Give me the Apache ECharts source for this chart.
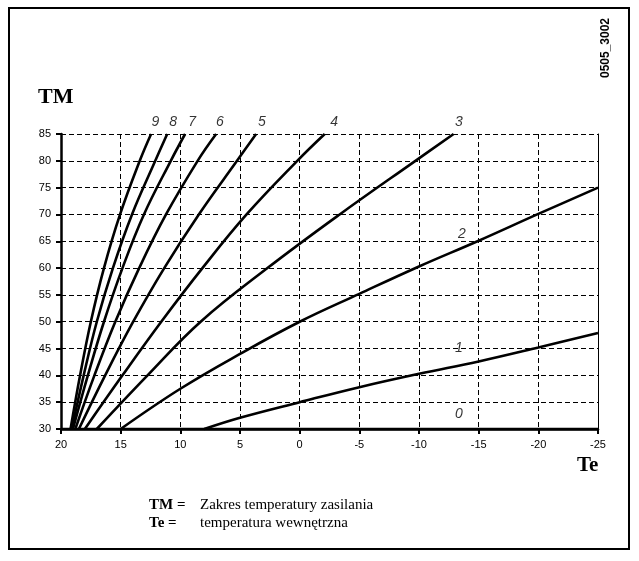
<!DOCTYPE html>
<html><head><meta charset="utf-8">
<script src="https://cdn.jsdelivr.net/npm/echarts@6/dist/echarts.min.js"></script>
<style>html,body{margin:0;padding:0;background:#fff}#c{width:639px;height:561px}</style>
</head><body><div id="c"></div>
<script>
// Te (outdoor temperature) axis and TM (flow temperature) axis
const teMin = -25, teMax = 20, teStep = 5;
const tmMin = 30, tmMax = 85, tmStep = 5;

// Heating curves: [Te, TM] points
const curve0 = [[20,30],[-25,30]];
const curve1 = [[8,30],[5,32.1],[0,35],[-5,37.8],[-10,40.3],[-15,42.6],[-20,45.2],[-25,47.9]];
const curve2 = [[15,30],[10,37.5],[5,44],[0,50],[-5,55.2],[-10,60.3],[-15,65.1],[-20,70.1],[-25,75]];
const curve3 = [[17,30],[12.75,40],[8.3,50],[2.7,60],[-3.35,70],[-9.7,80],[-12.9,85]];
const curve4 = [[18,30],[14.85,40],[11.6,50],[8.15,60],[4.45,70],[0.2,80],[-2.1,85]];
const curve5 = [[18.5,30],[16.3,40],[13.95,50],[11.35,60],[8.45,70],[5.25,80],[3.65,85]];
const curve6 = [[18.8,30],[17.2,40],[15.45,50],[13.45,60],[11.2,70],[8.55,80],[7.0,85]];
const curve7 = [[19.0,30],[17.75,40],[16.4,50],[14.85,60],[13.05,70],[10.8,80],[9.6,85]];
const curve8 = [[19.1,30],[18.1,40],[17.0,50],[15.65,60],[14.05,70],[12.1,80],[11.1,85]];
const curve9 = [[19.2,30],[18.4,40],[17.5,50],[16.4,60],[15.05,70],[13.4,80],[12.45,85]];
const curves = [curve0,curve1,curve2,curve3,curve4,curve5,curve6,curve7,curve8,curve9];
const curveNames = ['0','1','2','3','4','5','6','7','8','9'];

// Curve number labels: [Te, TM, text]
const curveLabels = [
  [-13.35,32.7,'0'],[-13.35,45.0,'1'],[-13.6,66.4,'2'],[-13.35,87.3,'3'],
  [-2.88,87.3,'4'],[3.16,87.3,'5'],[6.68,87.3,'6'],[9.02,87.3,'7'],[10.6,87.3,'8'],[12.1,87.3,'9']
];

const texts = {
  code: '0505_3002',
  yName: 'TM',
  xName: 'Te',
  leg1a: 'TM =', leg1b: 'Zakres temperatury zasilania',
  leg2a: 'Te =', leg2b: 'temperatura wewnętrzna'
};

const chart = echarts.init(document.getElementById('c'), null, {renderer:'canvas'});
const sans = 'Liberation Sans, Arial, sans-serif';
const serif = 'Liberation Serif, Times New Roman, serif';
const dash = {color:'#000', width:1, type:[5,3]};

const series = curves.map((d,i)=>({
  name: curveNames[i], type:'line', data:d, showSymbol:false, smooth:0.4,
  lineStyle:{color:'#000', width:2.6}, z:3, animation:false, clip:false
}));
series.push({
  type:'scatter', data:curveLabels, symbolSize:0, clip:false, z:4, animation:false,
  label:{show:true, position:'inside', formatter:p=>p.value[2], color:'#000',
    fontStyle:'italic', fontSize:14, fontFamily:sans}
});

chart.setOption({
  animation:false,
  backgroundColor:'#fff',
  grid:{left:61, right:41, top:134, bottom:132, containLabel:false},
  xAxis:{type:'value', inverse:true, min:teMin, max:teMax, interval:teStep,
    axisLine:{onZero:false, lineStyle:{color:'#000', width:2.5}},
    axisTick:{show:true, length:5, lineStyle:{color:'#000', width:2}},
    axisLabel:{color:'#000', fontSize:11, fontFamily:sans, margin:10},
    splitLine:{show:true, lineStyle:dash}},
  yAxis:[{type:'value', min:tmMin, max:tmMax, interval:tmStep,
    axisLine:{show:true, onZero:false, lineStyle:{color:'#000', width:2.5}},
    axisTick:{show:true, length:5, lineStyle:{color:'#000', width:2}},
    axisLabel:{color:'#000', fontSize:11, fontFamily:sans, margin:10},
    splitLine:{show:true, lineStyle:dash}},
   {type:'value', position:'right', min:tmMin, max:tmMax, interval:tmStep,
    axisLine:{show:true, onZero:false, lineStyle:{color:'#000', width:1}},
    axisTick:{show:false}, axisLabel:{show:false}, splitLine:{show:false}}],
  series:series,
  graphic:[
    {type:'rect', shape:{x:9, y:8, width:620, height:541}, style:{fill:null, stroke:'#000', lineWidth:2}, silent:true},
    {type:'text', x:606, y:48, rotation:Math.PI/2, style:{text:texts.code, font:'bold 12px '+sans, fill:'#000', align:'center', verticalAlign:'middle'}},
    {type:'text', x:38, y:97, style:{text:texts.yName, font:'bold 22px '+serif, fill:'#000', verticalAlign:'middle'}},
    {type:'text', x:577, y:466, style:{text:texts.xName, font:'bold 21px '+serif, fill:'#000', verticalAlign:'middle'}},
    {type:'text', x:149, y:505, style:{text:texts.leg1a, font:'bold 15px '+serif, fill:'#000', verticalAlign:'middle'}},
    {type:'text', x:200, y:505, style:{text:texts.leg1b, font:'15px '+serif, fill:'#000', verticalAlign:'middle'}},
    {type:'text', x:149, y:523, style:{text:texts.leg2a, font:'bold 15px '+serif, fill:'#000', verticalAlign:'middle'}},
    {type:'text', x:200, y:523, style:{text:texts.leg2b, font:'15px '+serif, fill:'#000', verticalAlign:'middle'}}
  ]
});
</script></body></html>
